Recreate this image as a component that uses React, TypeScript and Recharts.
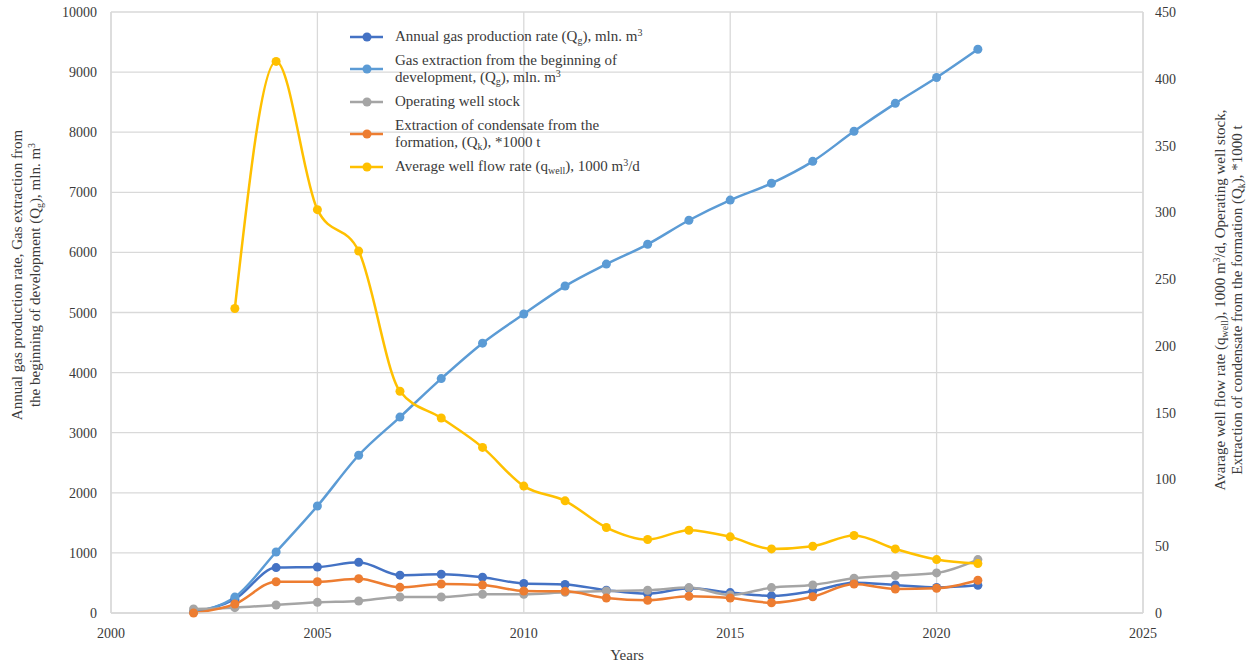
import { CartesianGrid, Legend, Line, LineChart, XAxis, YAxis } from 'recharts';

const years = [2002, 2003, 2004, 2005, 2006, 2007, 2008, 2009, 2010, 2011, 2012, 2013, 2014, 2015, 2016, 2017, 2018, 2019, 2020, 2021];

// left axis, mln. m3
const annualGas = [15, 230, 755, 765, 845, 630, 645, 595, 490, 475, 380, 320, 410, 340, 285, 365, 505, 465, 425, 460];
const cumulativeGas = [20, 265, 1015, 1780, 2625, 3260, 3900, 4490, 4975, 5440, 5805, 6135, 6535, 6870, 7150, 7515, 8015, 8480, 8910, 9380];

// right axis
const wellStock = [3, 4, 6, 8, 9, 12, 12, 14, 14, 15.5, 16.5, 17, 19, 13.5, 19, 21, 26, 28, 30, 40];
const condensate = [0, 6.7, 23.4, 23.4, 25.7, 19.2, 21.7, 21, 16.5, 16.2, 11.2, 9.5, 12.5, 11.2, 7.7, 12.2, 21.7, 18, 18.5, 24.5];
const flowRate = [null, 228, 413, 302, 271, 166, 146, 124, 95, 84, 64, 55, 62, 57, 48, 50, 58, 48, 40, 37];

const xTicks = [2000, 2005, 2010, 2015, 2020, 2025];
const leftTicks = [0, 1000, 2000, 3000, 4000, 5000, 6000, 7000, 8000, 9000, 10000];
const rightTicks = [0, 50, 100, 150, 200, 250, 300, 350, 400, 450];

const colors = {
  annualGas: '#4472C4',
  cumulativeGas: '#5B9BD5',
  wellStock: '#A5A5A5',
  condensate: '#ED7D31',
  flowRate: '#FFC000',
};

const data = years.map((year, i) => ({
  year,
  annualGas: annualGas[i],
  cumulativeGas: cumulativeGas[i],
  wellStock: wellStock[i],
  condensate: condensate[i],
  flowRate: flowRate[i],
}));

const FONT = '"Liberation Serif", "Times New Roman", serif';
const TEXT = '#3a3a3a';
const GRID = '#d9d9d9';
const svgText = { fontFamily: FONT, fontSize: 14, fill: TEXT };
const titleText = { fontFamily: FONT, fontSize: 15, fill: TEXT };

const subStyle = { fontSize: 10, lineHeight: 0, verticalAlign: 'baseline', position: 'relative' as const, top: 3 };
const supStyle = { fontSize: 10, lineHeight: 0, verticalAlign: 'baseline', position: 'relative' as const, top: -5 };

const legendItems = [
  { color: colors.annualGas, label: <>Annual gas production rate (Q<sub style={subStyle}>g</sub>), mln. m<sup style={supStyle}>3</sup></> },
  { color: colors.cumulativeGas, label: <>Gas extraction from the beginning of<br />development, (Q<sub style={subStyle}>g</sub>), mln. m<sup style={supStyle}>3</sup></> },
  { color: colors.wellStock, label: <>Operating well stock</> },
  { color: colors.condensate, label: <>Extraction of condensate from the<br />formation, (Q<sub style={subStyle}>k</sub>), *1000 t</> },
  { color: colors.flowRate, label: <>Average well flow rate (q<sub style={subStyle}>well</sub>), 1000 m<sup style={supStyle}>3</sup>/d</> },
];

const ChartLegend = () => (
  <div style={{ fontFamily: FONT, fontSize: 15, color: TEXT, lineHeight: '17px' }}>
    {legendItems.map((item, i) => (
      <div key={i} style={{ display: 'flex', alignItems: 'center', marginBottom: 7, whiteSpace: 'nowrap' }}>
        <svg width={33} height={10} style={{ marginRight: 12, flexShrink: 0 }}>
          <line x1={0} y1={5} x2={33} y2={5} stroke={item.color} strokeWidth={2.5} />
          <circle cx={17} cy={5} r={4.5} fill={item.color} />
        </svg>
        <span>{item.label}</span>
      </div>
    ))}
  </div>
);

const LeftTitle = () => (
  <g>
    <text transform="translate(17,275) rotate(-90)" x={0} y={5} textAnchor="middle" style={titleText}>
      Annual gas production rate, Gas extraction from
    </text>
    <text transform="translate(35,275) rotate(-90)" x={0} y={5} textAnchor="middle" style={titleText}>
      the beginning of development (Q<tspan style={{ fontSize: 10 }} dy={3}>g</tspan><tspan dy={-3}>), mln. m</tspan>
      <tspan style={{ fontSize: 10 }} dy={-5}>3</tspan>
    </text>
  </g>
);

const RightTitle = () => (
  <g>
    <text transform="translate(1220,300) rotate(-90)" x={0} y={5} textAnchor="middle" style={titleText}>
      Avarage well flow rate (q<tspan style={{ fontSize: 10 }} dy={3}>well</tspan><tspan dy={-3}>), 1000 m</tspan>
      <tspan style={{ fontSize: 10 }} dy={-5}>3</tspan><tspan dy={5}>/d, Operating well stock,</tspan>
    </text>
    <text transform="translate(1237,300) rotate(-90)" x={0} y={5} textAnchor="middle" style={titleText}>
      Extraction of condensate from the formation (Q<tspan style={{ fontSize: 10 }} dy={3}>k</tspan><tspan dy={-3}>), *1000 t</tspan>
    </text>
  </g>
);

const XTitle = () => (
  <text x={627} y={660} textAnchor="middle" style={titleText}>
    Years
  </text>
);

const AxisTick = (props: any) => {
  const { x, y, payload, textAnchor, orientation } = props;
  const dy = orientation === 'bottom' ? 10 : 5;
  return (
    <text x={x} y={y} dy={dy} textAnchor={textAnchor} style={svgText}>
      {payload.value}
    </text>
  );
};

const dotFor = (color: string) => ({ r: 4.5, fill: color, stroke: color, strokeWidth: 0 });

export default function App() {
  return (
    <div style={{ position: 'absolute', left: 0, top: 0, width: 1254, height: 665, background: '#fff' }}>
      <LineChart width={1254} height={665} data={data} margin={{ top: 12, right: 51, bottom: 22, left: 51 }}>
        <CartesianGrid stroke={GRID} strokeWidth={1.3} />
        <XAxis
          dataKey="year"
          type="number"
          domain={[2000, 2025]}
          ticks={xTicks}
          axisLine={{ stroke: GRID, strokeWidth: 1.3 }}
          tickLine={false}
          tickSize={0}
          tickMargin={15}
          tick={<AxisTick orientation="bottom" />}
          label={{ content: () => <XTitle /> }}
        />
        <YAxis
          domain={[0, 10000]}
          ticks={leftTicks}
          width={60}
          axisLine={{ stroke: GRID, strokeWidth: 1.3 }}
          tickLine={false}
          tickSize={0}
          tickMargin={14}
          tick={<AxisTick orientation="left" />}
          label={{ content: () => <LeftTitle /> }}
        />
        <YAxis
          yAxisId="right"
          orientation="right"
          domain={[0, 450]}
          ticks={rightTicks}
          width={60}
          axisLine={{ stroke: GRID, strokeWidth: 1.3 }}
          tickLine={false}
          tickSize={0}
          tickMargin={12}
          tick={<AxisTick orientation="right" />}
          label={{ content: () => <RightTitle /> }}
        />
        <Legend
          layout="horizontal"
          verticalAlign="middle"
          align="center"
          content={() => <ChartLegend />}
          wrapperStyle={{ position: 'absolute', left: 350, top: 28, width: 340, height: 160 }}
        />
        <Line type="monotone" dataKey="annualGas" stroke={colors.annualGas} strokeWidth={2.5}
          dot={dotFor(colors.annualGas)} activeDot={false} isAnimationActive={false} />
        <Line type="monotone" dataKey="cumulativeGas" stroke={colors.cumulativeGas} strokeWidth={2.5}
          dot={dotFor(colors.cumulativeGas)} activeDot={false} isAnimationActive={false} />
        <Line yAxisId="right" type="monotone" dataKey="wellStock" stroke={colors.wellStock} strokeWidth={2.5}
          dot={dotFor(colors.wellStock)} activeDot={false} isAnimationActive={false} />
        <Line yAxisId="right" type="monotone" dataKey="condensate" stroke={colors.condensate} strokeWidth={2.5}
          dot={dotFor(colors.condensate)} activeDot={false} isAnimationActive={false} />
        <Line yAxisId="right" type="monotone" dataKey="flowRate" stroke={colors.flowRate} strokeWidth={2.5}
          dot={dotFor(colors.flowRate)} activeDot={false} isAnimationActive={false} />
      </LineChart>
    </div>
  );
}
